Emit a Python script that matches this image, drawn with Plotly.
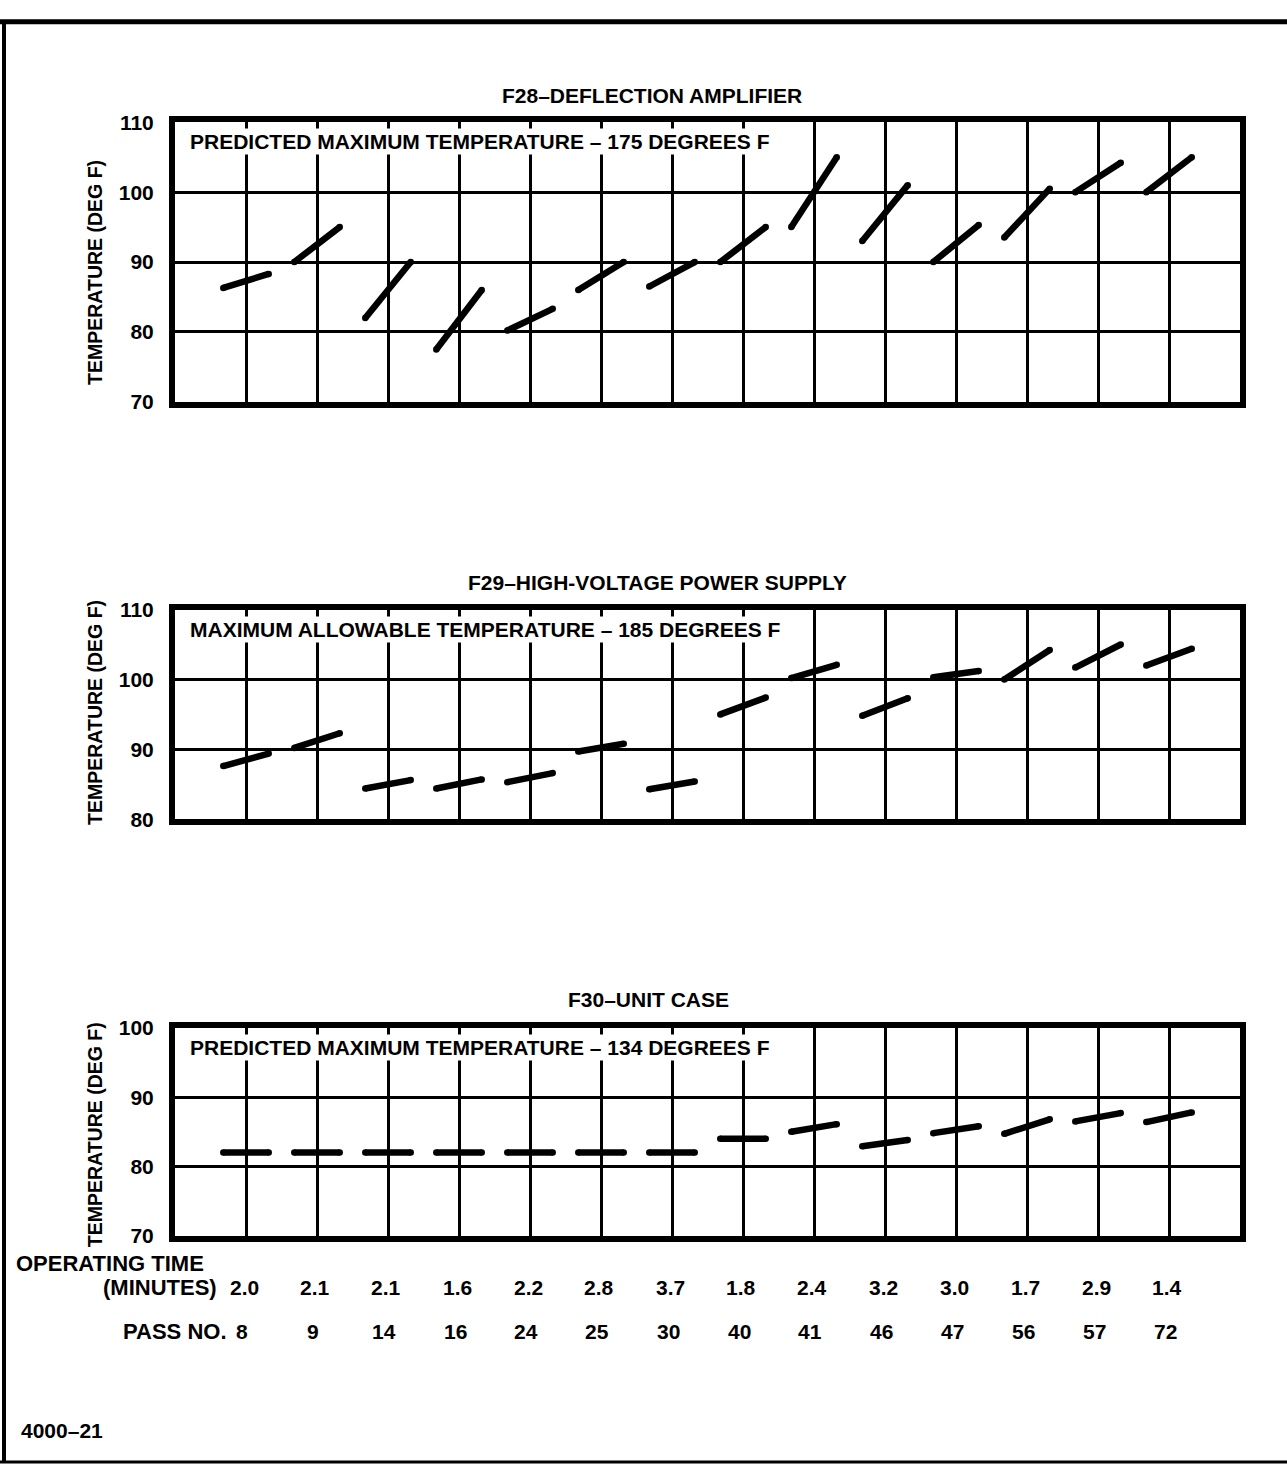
import plotly.graph_objects as go

# ---------------- data ----------------
pass_no = ["8", "9", "14", "16", "24", "25", "30", "40", "41", "46", "47", "56", "57", "72"]
op_minutes = ["2.0", "2.1", "2.1", "1.6", "2.2", "2.8", "3.7", "1.8", "2.4", "3.2", "3.0", "1.7", "2.9", "1.4"]

f28_start = [86.3, 90.0, 82.0, 77.5, 80.2, 86.0, 86.5, 90.0, 95.0, 93.0, 90.0, 93.5, 100.0, 100.0]
f28_end   = [88.3, 95.0, 90.0, 86.0, 83.3, 90.0, 90.0, 95.0, 105.0, 101.0, 95.3, 100.5, 104.2, 105.0]

f29_start = [87.6, 90.2, 84.4, 84.4, 85.3, 89.7, 84.3, 95.0, 100.2, 94.8, 100.3, 100.0, 101.7, 102.0]
f29_end   = [89.4, 92.3, 85.6, 85.7, 86.6, 90.8, 85.4, 97.4, 102.1, 97.3, 101.2, 104.2, 105.0, 104.4]

f30_start = [82.0, 82.0, 82.0, 82.0, 82.0, 82.0, 82.0, 84.0, 85.0, 82.9, 84.8, 84.7, 86.5, 86.4]
f30_end   = [82.0, 82.0, 82.0, 82.0, 82.0, 82.0, 82.0, 84.0, 86.1, 83.8, 85.8, 86.8, 87.7, 87.8]

panel_titles = ["F28–DEFLECTION AMPLIFIER", "F29–HIGH-VOLTAGE POWER SUPPLY", "F30–UNIT CASE"]
panel_notes = ["PREDICTED MAXIMUM TEMPERATURE – 175 DEGREES F",
               "MAXIMUM ALLOWABLE TEMPERATURE – 185 DEGREES F",
               "PREDICTED MAXIMUM TEMPERATURE – 134 DEGREES F"]
y_ranges = [(70, 110), (80, 110), (70, 100)]
y_title = "TEMPERATURE (DEG F)"

# ---------------- layout constants (pixels) ----------------
W, H = 1287, 1476
FONT = "Liberation Sans"
BOX_L, BOX_R = 175, 1240
panel_px = [(112, 396), (607, 820), (1032, 1243)]   # top, bottom in px
title_px = [(652, 85), (657, 580), (648, 1003)]
ytitle_cy = [264, 711, 1140]
HALF = 0.32  # half-width of each segment in category units

def py(v):
    return 1 - v / H

def px(v):
    return v / W

fig = go.Figure()

series = [(f28_start, f28_end), (f29_start, f29_end), (f30_start, f30_end)]
for k, (st, en) in enumerate(series):
    xs, ys = [], []
    for i, (s, e) in enumerate(zip(st, en)):
        c = i + 1
        xs += [c - HALF, c + HALF, None]
        ys += [s, e, None]
    suffix = "" if k == 0 else str(k + 1)
    fig.add_trace(go.Scatter(
        x=xs, y=ys, mode="lines+markers",
        line=dict(color="black", width=6.5),
        marker=dict(color="black", size=6.5),
        xaxis="x" + suffix, yaxis="y" + suffix,
        showlegend=False, hoverinfo="skip", cliponaxis=False,
    ))

layout = dict(
    width=W, height=H, autosize=False,
    margin=dict(l=0, r=0, t=0, b=0),
    paper_bgcolor="white", plot_bgcolor="white",
    showlegend=False,
    font=dict(family=FONT, color="black"),
)

BIG = dict(family=FONT, size=21, weight="bold", color="black")
LAB = dict(family=FONT, size=22, weight="bold", color="black")

annotations = []
shapes = []
for k in range(3):
    suffix = "" if k == 0 else str(k + 1)
    top, bot = panel_px[k]
    lo, hi = y_ranges[k]
    layout["xaxis" + suffix] = dict(
        domain=[px(BOX_L), px(BOX_R)], range=[0, 15],
        anchor="y" + suffix,
        tickvals=list(range(1, 15)), showticklabels=False, ticks="",
        showgrid=True, gridcolor="black", gridwidth=3,
        showline=True, linecolor="black", linewidth=6, mirror=True,
        zeroline=False, fixedrange=True,
    )
    layout["yaxis" + suffix] = dict(
        domain=[py(bot), py(top)], range=[lo, hi],
        anchor="x" + suffix,
        tickvals=list(range(lo, hi + 1, 10)),
        tickfont=dict(family=FONT, size=21, weight="bold", color="black"),
        ticks="", ticklabelstandoff=11,
        showgrid=True, gridcolor="black", gridwidth=3,
        showline=True, linecolor="black", linewidth=6, mirror=True,
        zeroline=False, fixedrange=True,
    )
    tx, ty = title_px[k]
    annotations.append(dict(
        text=panel_titles[k], x=px(tx), y=py(ty), xref="paper", yref="paper",
        xanchor="center", yanchor="middle", showarrow=False, font=BIG,
    ))
    annotations.append(dict(
        text=panel_notes[k], x=0.012, y=py(top + 20), xref="x" + suffix + " domain", yref="paper",
        xanchor="left", yanchor="middle", showarrow=False,
        bgcolor="white", borderpad=1, font=BIG,
    ))
    annotations.append(dict(
        text=y_title, x=px(95), y=py(ytitle_cy[k]), xref="paper", yref="paper",
        xanchor="center", yanchor="middle", showarrow=False, textangle=-90,
        font=dict(family=FONT, size=19.5, weight="bold", color="black"),
    ))

# bottom category labels
for i, (m, p) in enumerate(zip(op_minutes, pass_no)):
    annotations.append(dict(
        text=m, x=i + 1, y=py(1296), xref="x3", yref="paper", xshift=-2,
        xanchor="center", yanchor="middle", showarrow=False, font=BIG,
    ))
    annotations.append(dict(
        text=p, x=i + 1, y=py(1340), xref="x3", yref="paper", xshift=-4,
        xanchor="center", yanchor="middle", showarrow=False, font=BIG,
    ))

annotations += [
    dict(text="OPERATING TIME", x=px(14), y=py(1271), xref="paper", yref="paper",
         xanchor="left", yanchor="middle", showarrow=False, font=LAB),
    dict(text="(MINUTES)", x=px(219), y=py(1296), xref="paper", yref="paper",
         xanchor="right", yanchor="middle", showarrow=False, font=LAB),
    dict(text="PASS NO.", x=px(229), y=py(1340), xref="paper", yref="paper",
         xanchor="right", yanchor="middle", showarrow=False, font=LAB),
    dict(text="4000–21", x=px(19), y=py(1441), xref="paper", yref="paper",
         xanchor="left", yanchor="middle", showarrow=False, font=BIG),
]

# outer frame (top, left, bottom)
shapes += [
    dict(type="line", xref="paper", yref="paper", x0=px(0), x1=px(W), y0=py(10), y1=py(10),
         line=dict(color="black", width=5)),
    dict(type="line", xref="paper", yref="paper", x0=px(4), x1=px(4), y0=py(10), y1=py(1473),
         line=dict(color="black", width=4)),
    dict(type="line", xref="paper", yref="paper", x0=px(0), x1=px(W), y0=py(1473), y1=py(1473),
         line=dict(color="black", width=3)),
]

layout["annotations"] = annotations
layout["shapes"] = shapes
fig.update_layout(**layout)

fig.write_html("out.html", config={"displayModeBar": False},
               post_script="document.body.style.margin='0';")
